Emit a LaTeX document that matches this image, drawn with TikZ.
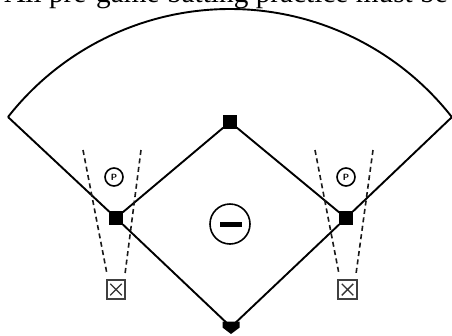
\documentclass[tikz,border=0pt]{standalone}
\usepackage{fontspec}
\setmainfont{Liberation Serif}
\usepackage{tikz}
\tikzset{
  base/.style={draw=none,fill=black,minimum size=13.5pt,inner sep=0pt,outer sep=0pt},
  field/.style={line width=1.9pt,black},
  lane/.style={line width=1.6pt,black!90,dash pattern=on 5pt off 3.5pt},
  ring/.style={circle,draw=black,line width=1.6pt,inner sep=0pt,outer sep=0pt},
  cage/.style={draw=black!75,line width=1.7pt,minimum size=18.5pt,inner sep=0pt,outer sep=0pt,
    path picture={\draw[black!80,line width=1.4pt]
      ([shift={(3.5pt,3.5pt)}]path picture bounding box.south west) -- ([shift={(-3.5pt,-3.5pt)}]path picture bounding box.north east)
      ([shift={(3.5pt,-3.5pt)}]path picture bounding box.north west) -- ([shift={(-3.5pt,3.5pt)}]path picture bounding box.south east);}}
}
\begin{document}
\begin{tikzpicture}[x=1pt,y=-1pt]
\useasboundingbox (0,0) rectangle (452,335);
\clip (0,0) rectangle (452,335);
\node[anchor=base,inner sep=0pt,font=\fontsize{29.3}{32}\selectfont] (title) at (226,2) {All pre-game batting practice must be};
\coordinate (leftend) at (8,117);
\coordinate (rightend) at (452,117);
\node[base] (second) at (230,122) {};
\node[base] (third) at (116,218) {};
\node[base] (first) at (346,218) {};
\coordinate (home) at (231,327);
\fill[black] (222.5,321.5) -- (239.7,321.5) -- (239.7,327.5) -- (231,334) -- (222.5,327.5) -- cycle;
\draw[field,line join=round] (leftend) arc[start angle=-141.9,end angle=-38.1,radius=282];
\draw[field,line join=round] (leftend) -- (third) -- (home) -- (first) -- (rightend);
\draw[field] (third) -- (second) -- (first);
\node[ring,minimum size=40pt] (rubber) at (230,224) {};
\fill[black] (220,222) rectangle (242,227);
\node[ring,minimum size=18pt,font=\sffamily\bfseries\fontsize{9}{9}\selectfont] (pleft) at (114,177) {P};
\node[ring,minimum size=18pt,font=\sffamily\bfseries\fontsize{9}{9}\selectfont] (pright) at (346,177) {P};
\node[cage] (boxleft) at (116,289.5) {};
\node[cage] (boxright) at (347.5,289.5) {};
\coordinate (la) at (83,150); \coordinate (lb) at (107,274);
\coordinate (lc) at (141,150); \coordinate (ld) at (125,274);
\coordinate (ra) at (315,150); \coordinate (rb) at (339,274);
\coordinate (rc) at (373,150); \coordinate (rd) at (356,274);
\draw[lane] (la) -- (lb);
\draw[lane] (lc) -- (ld);
\draw[lane] (ra) -- (rb);
\draw[lane] (rc) -- (rd);
\end{tikzpicture}
\end{document}
